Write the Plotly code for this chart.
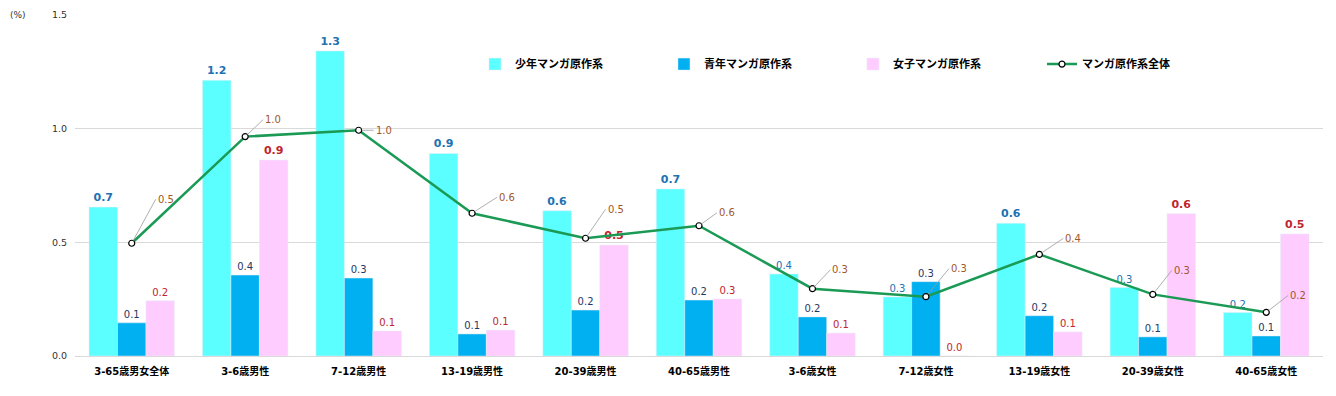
import plotly.graph_objects as go

categories = ["3-65歳男女全体", "3-6歳男性", "7-12歳男性", "13-19歳男性", "20-39歳男性",
              "40-65歳男性", "3-6歳女性", "7-12歳女性", "13-19歳女性", "20-39歳女性", "40-65歳女性"]
shonen = [0.655, 1.213, 1.342, 0.891, 0.639, 0.735, 0.361, 0.260, 0.584, 0.301, 0.191]
seinen = [0.146, 0.356, 0.343, 0.097, 0.202, 0.246, 0.172, 0.327, 0.177, 0.084, 0.088]
josei = [0.243, 0.862, 0.110, 0.114, 0.488, 0.251, 0.101, 0.0, 0.106, 0.626, 0.537]
total = [0.496, 0.965, 0.993, 0.628, 0.518, 0.573, 0.296, 0.261, 0.447, 0.271, 0.192]

series_names = ["少年マンガ原作系", "青年マンガ原作系", "女子マンガ原作系", "マンガ原作系全体"]
y_ticks = [0.0, 0.5, 1.0, 1.5]

# label offsets (px) for the line labels
label_dx = [24, 18, 15, 25, 20, 18, 18, 23, 24, 19, 22]
label_dy = [-44, -17, 0, -16, -29, -13, -19, -28, -16, -24, -17]

NUM_FONT = "DejaVu Sans, Noto Sans CJK JP"
CJK_FONT = "Noto Sans CJK JP, DejaVu Sans"


def labels(vals, bold_thresh=0.45):
    out = []
    for v in vals:
        s = f"{v:.1f}"
        out.append(f"<b>{s}</b>" if v >= bold_thresh else s)
    return out


def sizes(vals, bold_thresh=0.45):
    return [11 if v >= bold_thresh else 10 for v in vals]


fig = go.Figure()
fig.add_trace(go.Bar(
    name=series_names[0], x=categories, y=shonen, marker_color="#5CFFFF",
    text=labels(shonen), textposition="outside", constraintext="none",
    textfont=dict(family=NUM_FONT, size=sizes(shonen), color="#2271B1"), cliponaxis=False,
))
fig.add_trace(go.Bar(
    name=series_names[1], x=categories, y=seinen, marker_color="#00B0F0",
    text=labels(seinen, 9), textposition="outside", constraintext="none",
    textfont=dict(family=NUM_FONT, size=sizes(seinen, 9), color="#1F3864"), cliponaxis=False,
))
fig.add_trace(go.Bar(
    name=series_names[2], x=categories, y=josei, marker_color="#FFCCFF",
    text=labels(josei), textposition="outside", constraintext="none",
    textfont=dict(family=NUM_FONT, size=sizes(josei), color="#C0262D"), cliponaxis=False,
))
fig.add_trace(go.Scatter(
    name=series_names[3], x=categories, y=total, mode="lines+markers",
    line=dict(color="#1A9A55", width=2.5),
    marker=dict(symbol="circle", size=6, color="white", line=dict(color="black", width=1.2)),
    cliponaxis=False,
))

for c, v, dx, dy in zip(categories, total, label_dx, label_dy):
    fig.add_annotation(
        x=c, y=v, text=f"{v:.1f}", showarrow=True, ax=dx, ay=dy,
        arrowhead=0, arrowwidth=0.8, arrowcolor="#9a9a9a", standoff=3,
        font=dict(family=NUM_FONT, size=10, color="#A0582A"), xanchor="left",
    )

fig.add_annotation(
    xref="paper", yref="paper", x=-0.0537, y=1.0, xanchor="left", yanchor="middle",
    text="(%)", showarrow=False, font=dict(family=NUM_FONT, size=9, color="#333"),
)

# the page body has an 8px margin, so the figure is sized to fit inside the window
fig.update_layout(
    width=1320, height=380,
    margin=dict(l=67, r=5, t=7, b=32, autoexpand=False),
    paper_bgcolor="white", plot_bgcolor="white",
    barmode="group", bargap=0.247, bargroupgap=0,
    showlegend=True,
    legend=dict(
        orientation="h", x=0.3205, y=0.856, xanchor="left", yanchor="middle",
        entrywidth=144, entrywidthmode="pixels",
        font=dict(family=CJK_FONT, size=11, color="black", weight="bold"),
        bgcolor="rgba(0,0,0,0)",
    ),
    xaxis=dict(
        type="category", range=[-0.5, len(categories) - 0.5],
        showgrid=False, showline=False, ticks="",
        automargin=False, ticklabelstandoff=8,
        tickfont=dict(family=NUM_FONT, size=10, color="black", weight="bold"),
    ),
    yaxis=dict(
        range=[0, 1.5], tickvals=y_ticks, tickformat=".1f",
        showgrid=True, gridcolor="#d9d9d9", gridwidth=1,
        zeroline=True, zerolinecolor="#d9d9d9", zerolinewidth=1,
        showline=False, ticks="", ticklabelstandoff=7, automargin=False,
        tickfont=dict(family=NUM_FONT, size=9.5, color="#333"),
    ),
)

fig.write_html("out.html")
